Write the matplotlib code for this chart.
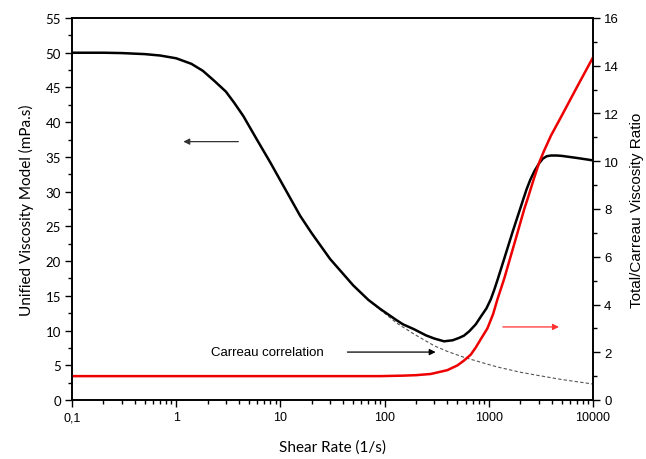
import numpy as np
import matplotlib
matplotlib.use("Agg")
import matplotlib.pyplot as plt
from matplotlib.ticker import FixedLocator, MultipleLocator, LogLocator, NullFormatter

# === Data ===
rate_total = [0.1, 0.2, 0.3, 0.5, 0.7, 1, 1.4, 1.8, 2.3, 3, 3.6, 4.4, 6, 8, 10, 15.5,
              20, 30, 50, 70, 91, 130, 150, 191, 250, 300, 372, 450, 520, 577, 650,
              750, 838, 950, 1045, 1130, 1213, 1403, 1700, 2110, 2300, 2500, 2750,
              3048, 3300, 3600, 3945, 4500, 5000, 7000, 10000]
visc_total = [50.0, 50.0, 49.95, 49.8, 49.6, 49.2, 48.4, 47.4, 46.0, 44.4, 42.8, 40.9,
              37.4, 34.2, 31.6, 26.5, 24.0, 20.3, 16.5, 14.4, 13.1, 11.5, 10.9, 10.2,
              9.3, 8.85, 8.45, 8.6, 8.95, 9.26, 9.9, 10.9, 12.0, 13.2, 14.5, 15.9,
              17.3, 20.3, 24.3, 28.6, 30.3, 31.7, 33.0, 34.1, 34.75, 35.1, 35.2, 35.2,
              35.15, 34.85, 34.5]

rate_carreau = [0.1, 0.2, 0.3, 0.5, 0.7, 1, 1.4, 1.8, 2.3, 3, 3.6, 4.4, 6, 8, 10, 15.5,
                20, 30, 50, 70, 91, 130, 191, 300, 400, 577, 1000, 1213, 2000, 2937,
                5000, 6190, 10000]
visc_carreau = [50.0, 50.0, 49.95, 49.8, 49.6, 49.2, 48.4, 47.4, 46.0, 44.4, 42.8, 40.9,
                37.4, 34.2, 31.6, 26.5, 24.0, 20.3, 16.5, 14.4, 13.0, 11.1, 9.5, 7.8,
                7.0, 6.15, 5.1, 4.75, 4.0, 3.55, 2.95, 2.75, 2.3]

rate_ratio = [0.1, 91, 150, 200, 277, 400, 500, 577, 671, 750, 838, 970, 1100, 1213,
              1403, 1800, 2190, 2355, 2700, 3048, 3400, 3700, 3945, 5000, 7000, 10000]
ratio = [1.0, 1.0, 1.02, 1.04, 1.09, 1.25, 1.45, 1.65, 1.9, 2.2, 2.55, 3.0, 3.6, 4.23,
         5.07, 6.7, 8.0, 8.42, 9.25, 9.95, 10.45, 10.8, 11.07, 11.9, 13.1, 14.35]

x_ticks = [0.1, 1, 10, 100, 1000, 10000]
x_labels = ["0,1", "1", "10", "100", "1000", "10000"]

LABEL_FONT = "Lato"
TICK_FONT = "Liberation Sans"

fig = plt.figure(figsize=(6.46, 4.60), dpi=100)
ax = fig.add_axes([72 / 646, 1 - 401 / 460, (593 - 72) / 646, (401 - 19) / 460])
ax2 = ax.twinx()

ax.plot(rate_total, visc_total, color="black", lw=1.8, zorder=3,
        solid_joinstyle="round")
ax.plot(rate_carreau, visc_carreau, color="#555555", lw=0.8, ls=(0, (3, 2)), zorder=2)
ax2.plot(rate_ratio, ratio, color="#ee0000", lw=1.8, solid_joinstyle="round")

ax.set_xscale("log")
ax.set_xlim(0.1, 10000)
ax.set_ylim(0, 55)
ax2.set_ylim(0, 16)

ax.xaxis.set_major_locator(FixedLocator(x_ticks))
ax.set_xticklabels(x_labels, fontfamily=TICK_FONT, fontsize=9)
ax.xaxis.set_minor_locator(LogLocator(base=10, subs=np.arange(2, 10)))
ax.xaxis.set_minor_formatter(NullFormatter())

ax.yaxis.set_major_locator(MultipleLocator(5))
ax.yaxis.set_minor_locator(MultipleLocator(2.5))
for t in ax.get_yticklabels():
    t.set_fontfamily(LABEL_FONT)
    t.set_fontsize(9.5)

ax2.yaxis.set_major_locator(MultipleLocator(2))
ax2.yaxis.set_minor_locator(MultipleLocator(1))
for t in ax2.get_yticklabels():
    t.set_fontfamily(TICK_FONT)
    t.set_fontsize(9.5)

for a in (ax, ax2):
    a.tick_params(which="major", direction="out", length=5, width=1, pad=3)
    a.tick_params(which="minor", direction="out", length=3, width=1)
    for s in a.spines.values():
        s.set_linewidth(1.2)

ax.set_xlabel("Shear Rate (1/s)", fontfamily=LABEL_FONT, fontsize=11, labelpad=12)
ax.set_ylabel("Unified Viscosity Model (mPa.s)", fontfamily=LABEL_FONT, fontsize=11, labelpad=8)
ax2.set_ylabel("Total/Carreau Viscosity Ratio", fontfamily=TICK_FONT, fontsize=11, labelpad=8)

# arrows and annotation
ax.annotate("", xy=(1.17, 37.2), xytext=(3.95, 37.2),
            arrowprops=dict(arrowstyle="-|>", color="#333333", lw=0.9,
                            mutation_scale=9, shrinkA=0, shrinkB=0))
ax.text(2.17, 6.9, "Carreau correlation", fontfamily=TICK_FONT, fontsize=9.5,
        va="center", ha="left")
ax.annotate("", xy=(309, 6.9), xytext=(44, 6.9),
            arrowprops=dict(arrowstyle="-|>", color="black", lw=0.9,
                            mutation_scale=9, shrinkA=0, shrinkB=0))
ax2.annotate("", xy=(4710, 3.06), xytext=(1365, 3.06),
             arrowprops=dict(arrowstyle="-|>", color="#ff3030", lw=0.9,
                             mutation_scale=9, shrinkA=0, shrinkB=0))

fig.savefig("out.png", dpi=100)
